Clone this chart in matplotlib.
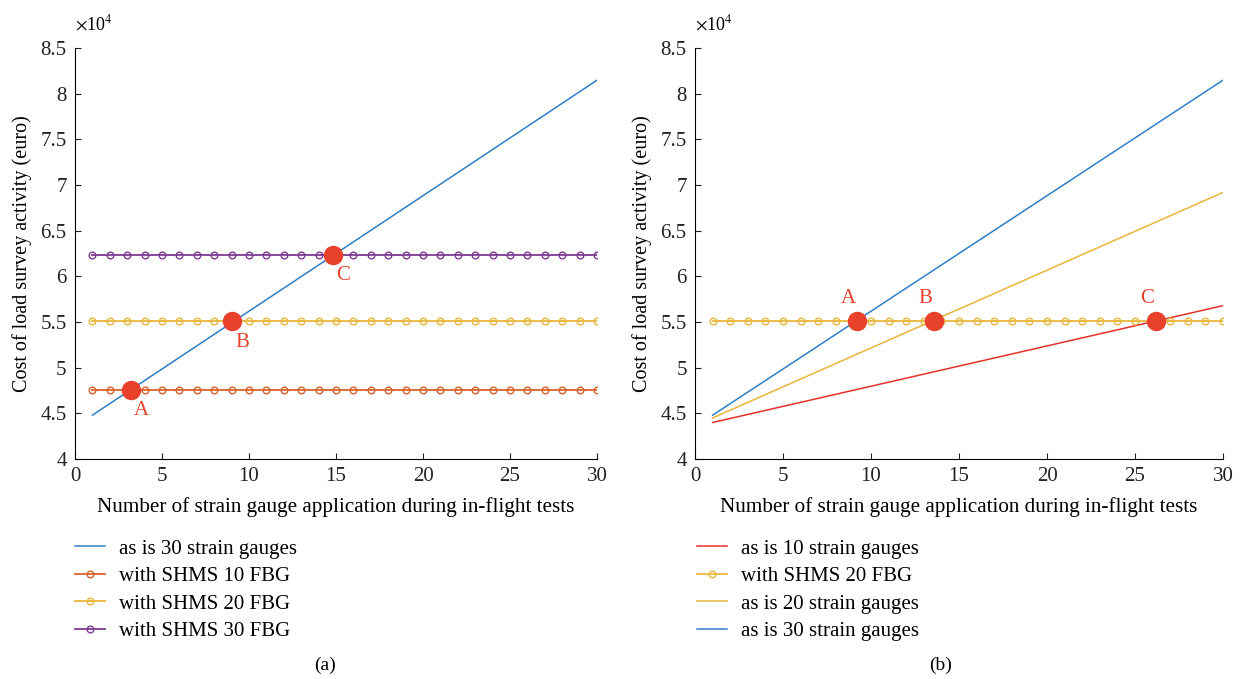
import numpy as np
import matplotlib.pyplot as plt

plt.rcParams['font.family'] = ['Liberation Serif', 'DejaVu Serif']
plt.rcParams['mathtext.fontset'] = 'stix'

# number of tests
tests = list(range(1, 31))

# (a) costs in units of 1e4 euro
a_asis30_x = [1, 30]
a_asis30_y = [4.48, 8.15]
a_shms10 = [4.76] * 30
a_shms20 = [5.51] * 30
a_shms30 = [6.24] * 30
a_pts_x = [3.2, 9.0, 14.8]
a_pts_y = [4.76, 5.51, 6.24]
a_pts_lbl = ['A', 'B', 'C']

# (b)
b_asis10_y = [4.40, 5.68]
b_asis20_y = [4.45, 6.92]
b_asis30_y = [4.48, 8.15]
b_shms20 = [5.51] * 30
b_pts_x = [9.2, 13.6, 26.2]
b_pts_y = [5.51, 5.51, 5.51]
b_pts_lbl = ['A', 'B', 'C']

blue = '#2E7EC6'
orange = '#D9622B'
yellow = '#E9B53C'
purple = '#7E3A92'
red = '#E8412C'
redline = '#E5322A'
dot = '#E8412C'

fig = plt.figure(figsize=(12.42, 6.79), dpi=100)
ax1 = fig.add_axes([0.0604, 0.324, 0.4203, 0.605])
ax2 = fig.add_axes([0.5596, 0.324, 0.4251, 0.605])


def style(ax):
    ax.set_xlim(0, 30)
    ax.set_ylim(4, 8.5)
    ax.set_xticks(range(0, 31, 5))
    ax.set_yticks(np.arange(4, 8.51, 0.5))
    ax.set_yticklabels(['4', '4.5', '5', '5.5', '6', '6.5', '7', '7.5', '8', '8.5'])
    ax.spines['top'].set_visible(False)
    ax.spines['right'].set_visible(False)
    ax.tick_params(direction='in', labelsize=15, length=4, colors='#222222', pad=6)
    ax.set_xlabel('Number of strain gauge application during in-flight tests', fontsize=15.2, labelpad=8)
    ax.set_ylabel('Cost of load survey activity (euro)', fontsize=14.5, labelpad=6)
    ax.text(0.0, 1.035, r'$\times$10$^4$', transform=ax.transAxes, fontsize=13, va='bottom')


mk = dict(marker='o', ms=4.8, mfc='none', mew=1.0)
leg_kw = dict(loc='upper left', frameon=False, fontsize=15, handlelength=1.45,
              labelspacing=0.38, handletextpad=0.65, borderpad=0, borderaxespad=0)

l1, = ax1.plot(a_asis30_x, a_asis30_y, color=blue, lw=1.1, label='as is 30 strain gauges')
l2, = ax1.plot(tests, a_shms10, color=orange, lw=1.3, label='with SHMS 10 FBG', **mk)
l3, = ax1.plot(tests, a_shms20, color=yellow, lw=1.3, label='with SHMS 20 FBG', **mk)
l4, = ax1.plot(tests, a_shms30, color=purple, lw=1.3, label='with SHMS 30 FBG', **mk)
ax1.plot(a_pts_x, a_pts_y, 'o', color=dot, ms=13, zorder=5)
for x, y, t in zip(a_pts_x, a_pts_y, a_pts_lbl):
    ax1.text(x + 0.6, y - 0.13, t, color=red, fontsize=15, ha='center', va='top')
style(ax1)
fig.legend(handles=[l1, l2, l3, l4], bbox_to_anchor=(0.0604, 0.206), **leg_kw)

m1, = ax2.plot(a_asis30_x, b_asis10_y, color=redline, lw=1.1, label='as is 10 strain gauges')
m2, = ax2.plot(tests, b_shms20, color=yellow, lw=1.3, label='with SHMS 20 FBG', **mk)
m3, = ax2.plot(a_asis30_x, b_asis20_y, color=yellow, lw=1.1, label='as is 20 strain gauges')
m4, = ax2.plot(a_asis30_x, b_asis30_y, color=blue, lw=1.1, label='as is 30 strain gauges')
ax2.plot(b_pts_x, b_pts_y, 'o', color=dot, ms=13, zorder=5)
for x, y, t in zip(b_pts_x, b_pts_y, b_pts_lbl):
    ax2.text(x - 0.5, y + 0.14, t, color=red, fontsize=15, ha='center', va='bottom')
style(ax2)
fig.legend(handles=[m1, m2, m3, m4], bbox_to_anchor=(0.561, 0.206), **leg_kw)

fig.text(0.262, 0.008, '(a)', fontsize=14, ha='center', va='bottom')
fig.text(0.757, 0.008, '(b)', fontsize=14, ha='center', va='bottom')

fig.savefig('out.png', dpi=100)
